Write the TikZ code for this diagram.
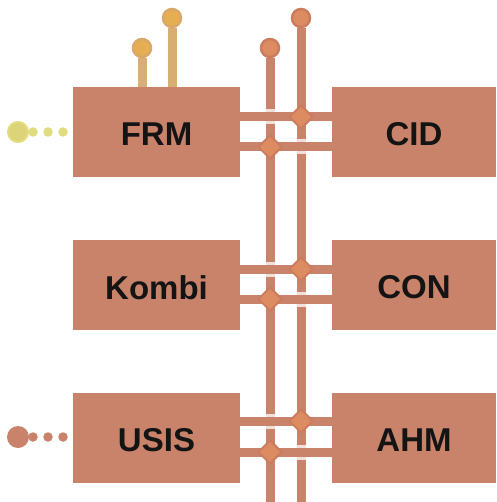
\documentclass[tikz,border=0pt]{standalone}
\usepackage{fontspec}
\setmainfont{Liberation Sans}
\usetikzlibrary{shapes.geometric,backgrounds}
\definecolor{boxc}{HTML}{C9836A}
\definecolor{pinc}{HTML}{CC7C5E}
\definecolor{pinf}{HTML}{DC8C60}
\definecolor{goldl}{HTML}{D9AE72}
\definecolor{goldo}{HTML}{D8A868}
\definecolor{goldf}{HTML}{E6AE52}
\definecolor{yel}{HTML}{E2DC80}
\definecolor{yelf}{HTML}{DDD47A}
\newcommand{\lbl}[1]{\raisebox{-2.5pt}[\height][\depth]{#1}}
\tikzset{
  blk/.style={fill=boxc,draw=none,minimum width=167pt,minimum height=90pt,inner sep=0pt,font=\bfseries\fontsize{33pt}{33pt}\selectfont,text=black!92},
  blkr/.style={blk,minimum width=164pt},
  bus/.style={draw=boxc,line width=9pt},
  busgold/.style={draw=goldl,line width=9pt},
  busover/.style={preaction={draw=white,line width=15pt,opacity=.75},draw=boxc,line width=9pt},
  junc/.style={diamond,aspect=1,draw=pinc,line width=2pt,fill=pinf,minimum size=24pt,inner sep=0pt},
  pin/.style={circle,draw=pinc,line width=2.5pt,fill=pinf,minimum size=18pt,inner sep=0pt},
  goldpin/.style={circle,draw=goldo,line width=2.5pt,fill=goldf,minimum size=18pt,inner sep=0pt},
  port/.style={circle,fill=#1,minimum size=22pt,inner sep=0pt},
  dots/.style={draw=#1,line width=9.5pt,line cap=round,dash pattern=on 0pt off 15pt},
}
\begin{document}
\begin{tikzpicture}[x=1pt,y=-1pt]
\useasboundingbox (0,0) rectangle (496,502);
\coordinate (endA) at (270,502);
\coordinate (endB) at (301,502);
% pins
\node[pin] (pA) at (270,48) {};
\node[pin] (pB) at (301,18) {};
\node[goldpin] (g1) at (142,48) {};
\node[goldpin] (g2) at (172,18) {};
% blocks
\node[blk] (frm) at (156.5,132) {\lbl{FRM}};
\node[blk] (kombi) at (156.5,285) {\lbl{Kombi}};
\node[blk] (usis) at (156.5,437.5) {\lbl{USIS}};
\node[blkr] (cid) at (414,132) {\lbl{CID}};
\node[blkr] (con) at (414,285) {\lbl{CON}};
\node[blkr] (ahm) at (414,437.5) {\lbl{AHM}};
% junctions
\node[junc] (j1) at (301,117) {};
\node[junc] (j2) at (270,147) {};
\node[junc] (j3) at (301,269) {};
\node[junc] (j4) at (270,299) {};
\node[junc] (j5) at (301,421) {};
\node[junc] (j6) at (270,452) {};
% ports
\node[port=yelf,draw=yel,line width=2pt,minimum size=20pt] (py) at (18,132) {};
\node[port=boxc] (pu) at (18,437) {};
\coordinate (dy) at (66,132);
\coordinate (du) at (66,437);
\begin{scope}[on background layer]
\draw[bus] (pA) -- (endA);
\draw[bus] (pB) -- (endB);
\draw[busgold] (g1) -- (g1 |- frm.north);
\draw[busgold] (g2) -- (g2 |- frm.north);
\foreach \a/\b/\j in {frm/cid/j1,frm/cid/j2,kombi/con/j3,kombi/con/j4,usis/ahm/j5,usis/ahm/j6}{
  \draw[busover] (\a.east |- \j) -- (\b.west |- \j);
}
\draw[dots=yel] (py.center) ++(15,0) -- (dy);
\draw[dots=boxc] (pu.center) ++(15,0) -- (du);
\end{scope}
\end{tikzpicture}
\end{document}
